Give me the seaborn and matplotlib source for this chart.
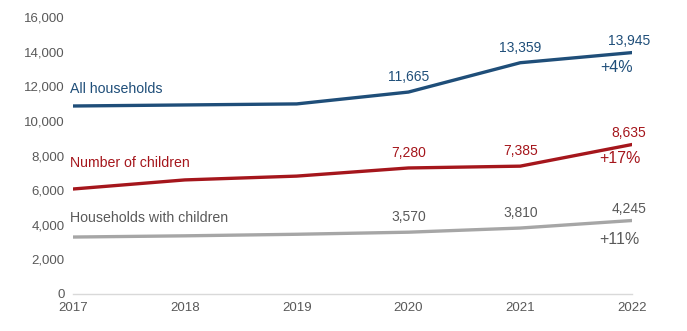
import matplotlib
matplotlib.use("Agg")
import matplotlib.pyplot as plt
import seaborn as sns
import pandas as pd

years = [2017, 2018, 2019, 2020, 2021, 2022]
all_households = [10860, 10920, 10980, 11665, 13359, 13945]
number_of_children = [6065, 6590, 6810, 7280, 7385, 8635]
households_with_children = [3290, 3360, 3450, 3570, 3810, 4245]
series_names = ["All households", "Number of children", "Households with children"]
changes = ["+4%", "+17%", "+11%"]
labelled_years = [2020, 2021, 2022]

colors = {"All households": "#1f4e79",
          "Number of children": "#a5161c",
          "Households with children": "#a6a6a6"}
text_colors = {"All households": "#1f4e79",
               "Number of children": "#a5161c",
               "Households with children": "#595959"}

df = pd.DataFrame({
    "year": years * 3,
    "value": all_households + number_of_children + households_with_children,
    "series": sum([[n] * len(years) for n in series_names], []),
})

sns.set_theme(style="white")
plt.rcParams["font.family"] = ["Liberation Sans", "DejaVu Sans"]

fig = plt.figure(figsize=(6.87, 3.31), dpi=100)
ax = fig.add_axes([0.1063, 0.1118, 0.8137, 0.8368])

sns.lineplot(data=df, x="year", y="value", hue="series", palette=colors,
             linewidth=2.4, legend=False, ax=ax)

ax.set_xlim(2017, 2022)
ax.set_ylim(0, 16000)
ax.set_xticks(years)
ax.set_yticks(range(0, 16001, 2000))
ax.set_yticklabels([f"{v:,}" for v in range(0, 16001, 2000)])
ax.set_xlabel("")
ax.set_ylabel("")
for s in ["top", "right", "left"]:
    ax.spines[s].set_visible(False)
ax.spines["bottom"].set_color("#d9d9d9")
ax.spines["bottom"].set_linewidth(1)
ax.tick_params(axis="x", colors="#595959", labelsize=9.5, length=4, width=0.8,
               color="#d9d9d9", pad=2)
ax.tick_params(axis="y", colors="#595959", labelsize=9.5, length=0, pad=6)
for lbl in ax.get_xticklabels() + ax.get_yticklabels():
    lbl.set_color("#595959")

# series names, placed on the left above each line
series_values = dict(zip(series_names,
                         [all_households, number_of_children, households_with_children]))
name_offsets = {"All households": 600, "Number of children": 1100,
                "Households with children": 700}
for name in series_names:
    vals = series_values[name]
    ax.text(2016.97, vals[0] + name_offsets[name], name, color=text_colors[name],
            fontsize=10.2, ha="left", va="bottom")

# value labels above recent points
for name in series_names:
    vals = series_values[name]
    for yr in labelled_years:
        v = vals[years.index(yr)]
        last = yr == years[-1]
        ax.text(yr - 0.03 if last else yr, v + (250 if last else 450), f"{v:,}",
                color=text_colors[name], fontsize=10, ha="center", va="bottom")

# percentage change labels under the final point
pct_x = {"All households": 2021.86, "Number of children": 2021.89,
         "Households with children": 2021.89}
pct_gap = {"All households": 450, "Number of children": 350,
           "Households with children": 650}
for name, ch in zip(series_names, changes):
    v = series_values[name][-1]
    ax.text(pct_x[name], v - pct_gap[name], ch, color=text_colors[name],
            fontsize=11.5, ha="center", va="top")

fig.savefig("out.png", dpi=100)
